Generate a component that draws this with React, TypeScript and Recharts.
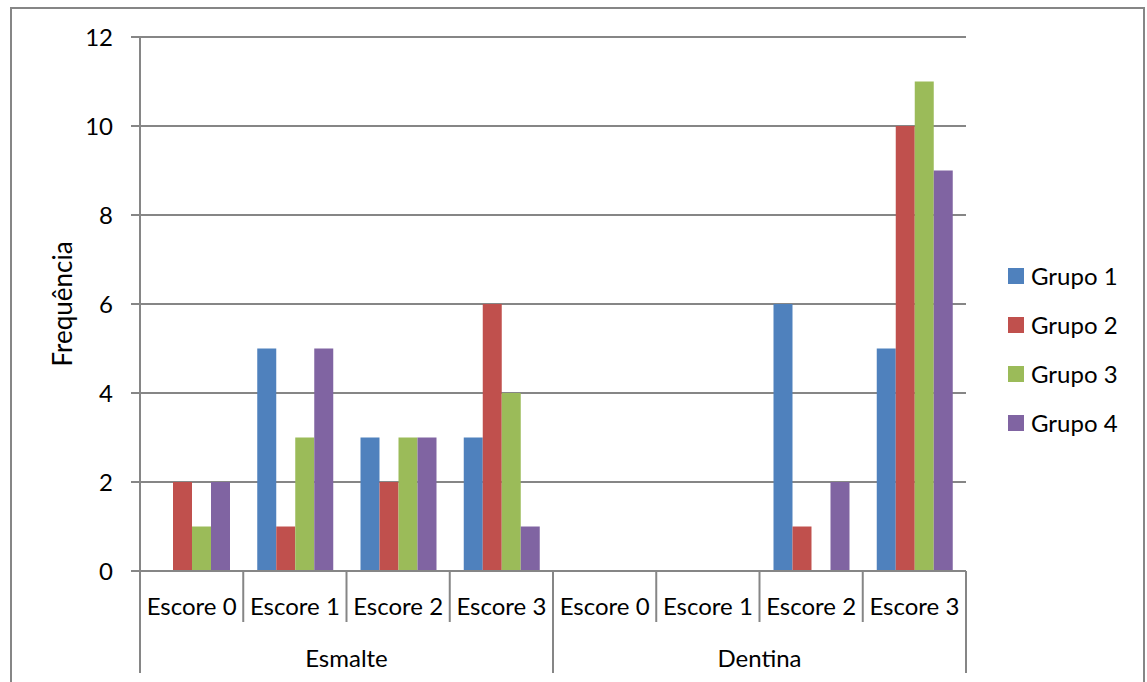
import React from 'react';
import { BarChart, Bar, XAxis, YAxis, CartesianGrid, Legend } from 'recharts';

// ---------------------------------------------------------------------------
// Data
// ---------------------------------------------------------------------------
const SCORES = ['Escore 0', 'Escore 1', 'Escore 2', 'Escore 3', 'Escore 0', 'Escore 1', 'Escore 2', 'Escore 3'];
const TISSUES = ['Esmalte', 'Esmalte', 'Esmalte', 'Esmalte', 'Dentina', 'Dentina', 'Dentina', 'Dentina'];
const GRUPO_1 = [0, 5, 3, 3, 0, 0, 6, 5];
const GRUPO_2 = [2, 1, 2, 6, 0, 0, 1, 10];
const GRUPO_3 = [1, 3, 3, 4, 0, 0, 0, 11];
const GRUPO_4 = [2, 5, 3, 1, 0, 0, 2, 9];
const Y_TICKS = [0, 2, 4, 6, 8, 10, 12];
const SERIES_NAMES = ['Grupo 1', 'Grupo 2', 'Grupo 3', 'Grupo 4'];

// ---------------------------------------------------------------------------
// Theme
// ---------------------------------------------------------------------------
const FONT = 'Lato, "Open Sans", sans-serif';
const FONT_SIZE = 24;
const AXIS_GRAY = '#868686';
const COLORS = ['#4F81BD', '#C0504D', '#9BBB59', '#8064A2'];

const data = SCORES.map((score, i) => ({
  score,
  tissue: TISSUES[i],
  g1: GRUPO_1[i],
  g2: GRUPO_2[i],
  g3: GRUPO_3[i],
  g4: GRUPO_4[i],
}));

// Two-level category axis, Excel style: score label + boundary line per
// category, tissue label centred under each block of four.
function CategoryTick(props: any) {
  const { x, y, payload } = props;
  const idx: number = payload.index;
  const half: number = payload.offset || 51.6;
  const left = x - half;
  const right = x + half;
  const groupStart = idx === 0 || TISSUES[idx] !== TISSUES[idx - 1];
  const isLast = idx === SCORES.length - 1;
  const showGroup = idx % 4 === 1;

  return (
    <g>
      <line x1={left} y1={y} x2={left} y2={y + (groupStart ? 102 : 51)} stroke={AXIS_GRAY} strokeWidth={2} />
      {isLast && <line x1={right} y1={y} x2={right} y2={y + 102} stroke={AXIS_GRAY} strokeWidth={2} />}
      <text
        x={x}
        y={y + 34}
        textAnchor="middle"
        dominantBaseline="central"
        fontFamily={FONT}
        fontSize={FONT_SIZE}
        fill="#000"
      >
        {payload.value}
      </text>
      {showGroup && (
        <text
          x={right}
          y={y + 86}
          textAnchor="middle"
          dominantBaseline="central"
          fontFamily={FONT}
          fontSize={FONT_SIZE}
          fill="#000"
        >
          {TISSUES[idx]}
        </text>
      )}
    </g>
  );
}

function LegendContent() {
  return (
    <div style={{ fontFamily: FONT, fontSize: FONT_SIZE, color: '#000' }}>
      {SERIES_NAMES.map((name, i) => (
        <div key={name} style={{ display: 'flex', alignItems: 'center', height: 49 }}>
          <span style={{ width: 16, height: 16, background: COLORS[i], marginRight: 7, display: 'inline-block' }} />
          <span>{name}</span>
        </div>
      ))}
    </div>
  );
}

export default function App() {
  return (
    <div style={{ position: 'absolute', left: 0, top: 0, width: 1147, height: 682, background: '#fff', overflow: 'hidden' }}>
      {/* chart frame */}
      <div
        style={{
          position: 'absolute',
          left: 10,
          top: 7,
          width: 1135,
          height: 700,
          border: `2px solid ${AXIS_GRAY}`,
          boxSizing: 'border-box',
        }}
      />
      <BarChart
        width={1147}
        height={682}
        data={data}
        margin={{ top: 37, right: 181, bottom: 9, left: 10 }}
        barCategoryGap={14}
        barGap={0}
        style={{ position: 'absolute', left: 0, top: 0 }}
      >
        <CartesianGrid vertical={false} stroke={AXIS_GRAY} strokeWidth={2} />
        <XAxis
          dataKey="score"
          height={102}
          tickSize={0}
          tickMargin={0}
          tickLine={false}
          interval={0}
          axisLine={{ stroke: AXIS_GRAY, strokeWidth: 2 }}
          tick={<CategoryTick />}
        />
        <YAxis
          width={130}
          domain={[0, 12]}
          ticks={Y_TICKS}
          interval={0}
          tickSize={9}
          tickMargin={18}
          axisLine={{ stroke: AXIS_GRAY, strokeWidth: 2 }}
          tickLine={{ stroke: AXIS_GRAY, strokeWidth: 2 }}
          tick={{ fill: '#000', fontSize: FONT_SIZE, fontFamily: FONT }}
          label={({ viewBox }: any) => {
            const cx = viewBox.x + 52;
            const cy = viewBox.y + viewBox.height / 2;
            return (
              <text
                x={cx}
                y={cy}
                transform={`rotate(-90 ${cx} ${cy})`}
                textAnchor="middle"
                dominantBaseline="central"
                fontFamily={FONT}
                fontSize={26}
                fill="#000"
              >
                Frequência
              </text>
            );
          }}
        />
        <Legend
          layout="vertical"
          align="center"
          verticalAlign="middle"
          content={<LegendContent />}
          wrapperStyle={{ left: 1008, top: 251, width: 139 }}
        />
        <Bar dataKey="g1" name={SERIES_NAMES[0]} fill={COLORS[0]} isAnimationActive={false} />
        <Bar dataKey="g2" name={SERIES_NAMES[1]} fill={COLORS[1]} isAnimationActive={false} />
        <Bar dataKey="g3" name={SERIES_NAMES[2]} fill={COLORS[2]} isAnimationActive={false} />
        <Bar dataKey="g4" name={SERIES_NAMES[3]} fill={COLORS[3]} isAnimationActive={false} />
      </BarChart>
    </div>
  );
}
